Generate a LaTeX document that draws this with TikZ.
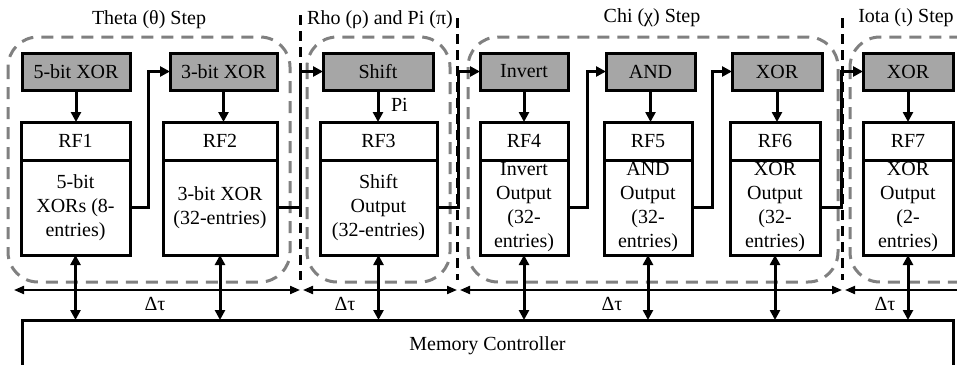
\documentclass[tikz,border=0pt]{standalone}
\usepackage{fontspec}
\setmainfont{Liberation Serif}
\usetikzlibrary{positioning,arrows.meta}
\definecolor{gatefill}{RGB}{166,166,166}
\definecolor{stagegray}{RGB}{128,128,128}
\tikzset{
  gate/.style={draw, line width=1.5pt, fill=gatefill, minimum height=18.5pt, inner sep=0pt, outer sep=0pt},
  rfhead/.style={draw, line width=1.5pt, minimum height=19pt, inner sep=0pt, outer sep=0pt},
  rfbody/.style={draw, line width=1.5pt, minimum height=47.5pt, inner sep=0pt, outer sep=0pt, align=center},
  link/.style={line width=1.5pt, -{Triangle[length=5pt,width=5pt]}},
  bus/.style={line width=1.5pt, {Triangle[length=5pt,width=5pt]}-{Triangle[length=5pt,width=5pt]}},
  span/.style={line width=1pt, {Triangle[length=5pt,width=4pt]}-{Triangle[length=5pt,width=4pt]}},
  stage/.style={draw=stagegray, line width=1.5pt, dash pattern=on 6pt off 4pt, rounded corners=15pt},
  divider/.style={line width=1.5pt, dash pattern=on 5pt off 3pt}
}
\begin{document}
\begin{tikzpicture}[x=0.5pt, y=-0.5pt]
  \useasboundingbox (0,0) rectangle (957,364);

  % stage outlines
  \draw[stage] (8,37) rectangle (290,282);
  \draw[stage] (307,37) rectangle (450,282);
  \draw[stage] (468,37) rectangle (838,282);
  \draw[stage] (850,37) rectangle (995,282);
  \draw[divider] (300,15) -- (300,280);
  \draw[divider] (457,18) -- (457,280);
  \draw[divider] (842,18) -- (842,280);

  % titles
  \node (ttheta) at (149,20) {Theta (θ) Step};
  \node (trho) at (380,20) {Rho (ρ) and Pi (π)};
  \node (tchi) at (652,18) {Chi (χ) Step};
  \node (tiota) at (906,18) {Iota (ι) Step};

  % operation boxes
  \node[gate, minimum width=54pt] (g1) at (76,71.5) {5-bit XOR};
  \node[gate, minimum width=53.5pt] (g2) at (223.5,71.5) {3-bit XOR};
  \node[gate, minimum width=55pt] (g3) at (378,71.5) {Shift};
  \node[gate, minimum width=44pt] (g4) at (524,71.5) {Invert};
  \node[gate, minimum width=44.5pt] (g5) at (650.5,71.5) {AND};
  \node[gate, minimum width=45pt] (g6) at (777,71.5) {XOR};
  \node[gate, minimum width=45pt] (g7) at (908,71.5) {XOR};

  % register files
  \node[rfhead, minimum width=54.5pt] (r1) at (75.5,141) {RF1};
  \node[rfhead, minimum width=57pt] (r2) at (220,141) {RF2};
  \node[rfhead, minimum width=58.5pt] (r3) at (378.5,141) {RF3};
  \node[rfhead, minimum width=44pt] (r4) at (524,141) {RF4};
  \node[rfhead, minimum width=44pt] (r5) at (648,141) {RF5};
  \node[rfhead, minimum width=45pt] (r6) at (775,141) {RF6};
  \node[rfhead, minimum width=45pt] (r7) at (908,141) {RF7};
  \node[rfbody, minimum width=54.5pt, below=0pt of r1] (b1) {5-bit\\XORs (8-\\entries)};
  \node[rfbody, minimum width=57pt, below=0pt of r2] (b2) {3-bit XOR\\(32-entries)};
  \node[rfbody, minimum width=58.5pt, below=0pt of r3] (b3) {Shift\\Output\\(32-entries)};
  \node[rfbody, minimum width=44pt, below=0pt of r4] (b4) {Invert\\Output\\(32-\\entries)};
  \node[rfbody, minimum width=44pt, below=0pt of r5] (b5) {AND\\Output\\(32-\\entries)};
  \node[rfbody, minimum width=45pt, below=0pt of r6] (b6) {XOR\\Output\\(32-\\entries)};
  \node[rfbody, minimum width=45pt, below=0pt of r7] (b7) {XOR\\Output\\(2-\\entries)};

  \node[draw, line width=1.5pt, minimum width=465.5pt, minimum height=26pt, outer sep=0pt] (mem) at (487.5,346) {Memory Controller};

  % operation -> register file
  \foreach \i in {1,...,7}
    \draw[link] (g\i.south) -- (g\i.south |- r\i.north);
  \node[anchor=west] (pi) at (384,105) {Pi};

  % register file -> next operation
  \draw[link] (b1.east) -- ++(18,0) |- (g2.west);
  \draw[link] (b2.east) -- ++(23,0) |- (g3.west);
  \draw[link] (b3.east) -- ++(21,0) |- (g4.west);
  \draw[link] (b4.east) -- ++(19,0) |- (g5.west);
  \draw[link] (b5.east) -- ++(20,0) |- (g6.west);
  \draw[link] (b6.east) -- ++(21,0) |- (g7.west);

  % register file <-> memory
  \foreach \i in {1,...,7}
    \draw[bus] (b\i.south) -- (b\i.south |- mem.north);

  % time spans
  \coordinate (s0) at (14,290);
  \coordinate (s1) at (300,290);
  \coordinate (s2) at (303,290);
  \coordinate (s3) at (457,290);
  \coordinate (s4) at (460,290);
  \coordinate (s5) at (842,290);
  \coordinate (s6) at (845,290);
  \coordinate (s7) at (990,290);
  \draw[span] (s0) -- (s1);
  \draw[span] (s2) -- (s3);
  \draw[span] (s4) -- (s5);
  \draw[span] (s6) -- (s7);
  \node (d1) at (155,304) {Δτ};
  \node (d2) at (345,304) {Δτ};
  \node (d3) at (612,304) {Δτ};
  \node (d4) at (885,304) {Δτ};
\end{tikzpicture}
\end{document}
